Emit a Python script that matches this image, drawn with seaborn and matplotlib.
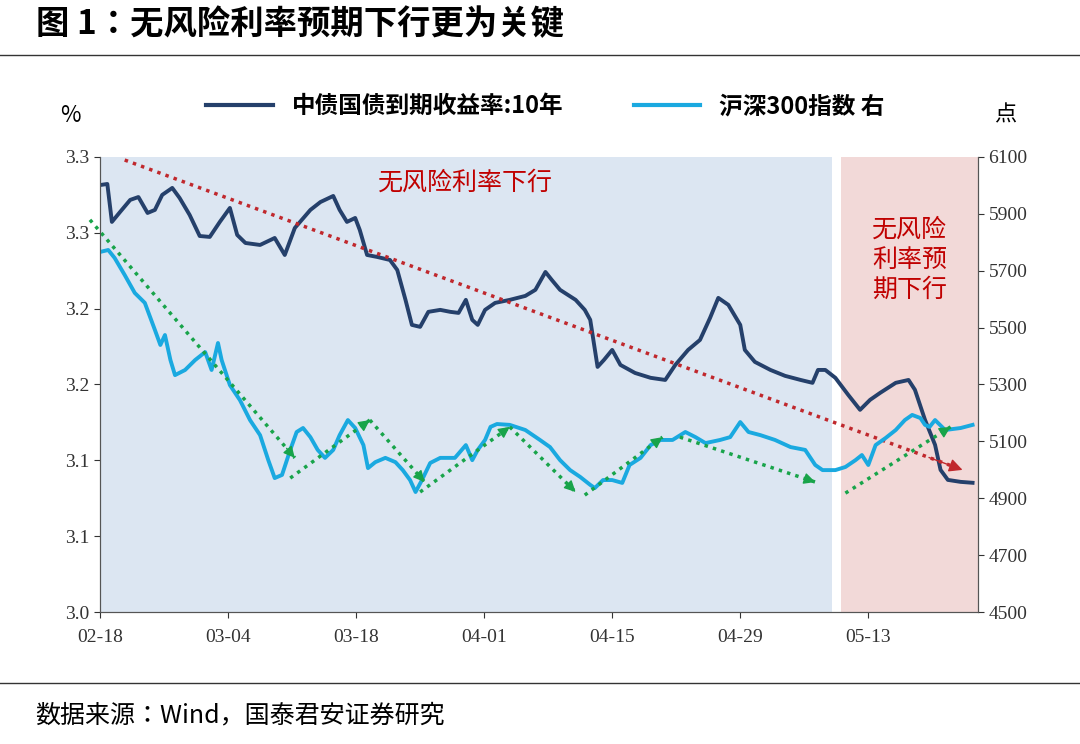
import matplotlib
matplotlib.use("Agg")
import matplotlib.pyplot as plt
import seaborn as sns
from matplotlib.lines import Line2D
from matplotlib import font_manager

bond_day = [0,0.8,1.3,2.2,3.3,4.2,5.2,6,6.8,7.9,8.7,9.8,10.9,12,13.1,14.2,15,15.9,17.5,19.1,20.2,21.3,23,24.1,25.5,26.2,27,27.9,28.4,29.2,30.3,31.7,32.5,33.4,34.1,35,35.9,37.2,38.3,39.2,40,40.7,41.3,42.1,43.2,44.8,46.5,47.6,48.7,49.4,50.3,52,53,53.6,54.4,55.1,56,56.9,58.5,60.2,61.8,62.9,64.3,65.6,66.7,67.6,68.7,70,70.5,71.6,73.3,74.9,76.6,77.9,78.5,79.3,80.4,81.8,83.1,84.2,85.3,87,88.4,89.1,90.2,91.3,91.9,92.7,94.1,95.4]
bond_yield = [3.2815,3.2822,3.2572,3.2638,3.2717,3.2736,3.2631,3.2651,3.2750,3.2796,3.2730,3.2618,3.2479,3.2473,3.2572,3.2664,3.2486,3.2433,3.2420,3.2466,3.2354,3.2532,3.2651,3.2703,3.2743,3.2651,3.2572,3.2598,3.2519,3.2354,3.2341,3.2321,3.2255,3.2058,3.1893,3.1880,3.1979,3.1992,3.1979,3.1972,3.2058,3.1926,3.1893,3.1992,3.2038,3.2058,3.2084,3.2124,3.2242,3.2189,3.2124,3.2058,3.1992,3.1926,3.1616,3.1662,3.1728,3.1629,3.1576,3.1544,3.1530,3.1629,3.1728,3.1794,3.1939,3.2071,3.2025,3.1893,3.1728,3.1649,3.1596,3.1557,3.1530,3.1511,3.1596,3.1596,3.1544,3.1432,3.1333,3.1399,3.1445,3.1511,3.1530,3.1465,3.1267,3.1102,3.0937,3.0871,3.0858,3.0852]

csi_day = [0,0.9,1.6,2.7,3.8,4.9,6,6.6,7.1,7.7,8.2,9.3,10.4,11.5,12.2,12.9,13.3,14.2,15.3,16.4,17.5,18.4,19.1,19.9,20.8,21.5,22.2,23,23.8,24.6,25.5,26.2,27.1,27.9,28.8,29.3,30.1,31.2,32.3,33.1,33.9,34.5,35.2,36.1,37.2,38.8,40,40.7,41.3,42.1,42.7,43.4,44.8,46.5,48.1,49.2,50.3,51.4,52.5,53.6,54.1,55,56,57.1,57.9,59.1,60.2,61.3,62.6,64,65.1,66.2,67.8,68.9,70,70.9,72.2,73.8,75.5,77.1,78.2,79,80.4,81.5,82.6,83.3,84,84.8,85.9,87,88,88.8,89.7,90.2,90.7,91.3,92.4,94.1,95.4]
csi_value = [5766,5773,5745,5685,5622,5587,5492,5439,5474,5386,5333,5351,5386,5414,5351,5446,5386,5298,5245,5175,5122,5034,4971,4982,5070,5133,5147,5115,5070,5042,5070,5122,5175,5147,5087,5006,5027,5042,5027,4999,4964,4922,4964,5024,5042,5042,5087,5034,5070,5105,5151,5161,5158,5140,5105,5080,5034,4999,4975,4947,4936,4964,4964,4954,5017,5042,5087,5105,5105,5133,5115,5094,5105,5115,5168,5133,5122,5105,5080,5070,5017,4999,4999,5010,5034,5052,5017,5087,5112,5140,5175,5193,5182,5158,5151,5175,5140,5147,5158]

tick_days = [0,14,28,42,56,70,84]
tick_labels = ["02-18","03-04","03-18","04-01","04-15","04-29","05-13"]
left_ticks = [3.00,3.05,3.10,3.15,3.20,3.25,3.30]
left_labels = ["3.0","3.1","3.1","3.2","3.2","3.3","3.3"]
right_ticks = [4500,4700,4900,5100,5300,5500,5700,5900,6100]

red_trend = [(2.7,3.298),(94.3,3.0937)]
green_trends = [((-1.1,5879),(21.3,5042)),((20.8,4971),(29.5,5175)),((29.5,5175),(35.5,4957)),
                ((35,4922),(44.8,5151)),((44.8,5151),(52,4922)),((53,4911),(61.5,5115)),
                ((63.4,5115),(78.2,4957)),((81.5,4918),(93,5151))]

names = {f.name for f in font_manager.fontManager.ttflist}
CN = [n for n in ["Noto Sans CJK SC", "Noto Sans CJK JP", "Noto Sans CJK TC", "Noto Sans CJK KR"] if n in names] + ["DejaVu Sans"]
plt.rcParams["font.family"] = CN
SERIF = "Liberation Serif"
DARK = "#25406b"
LIGHT = "#1aa9e0"
RED = "#c00000"

fig = plt.figure(figsize=(10.8, 7.44), dpi=100)
ax = fig.add_axes([0.0926, 0.1774, 0.813, 0.6116])
ax2 = ax.twinx()

ax.axvspan(0, 80, color="#dce6f2", zorder=0, lw=0)
ax.axvspan(81, 96, color="#f2d9d8", zorder=0, lw=0)

sns.lineplot(x=bond_day, y=bond_yield, ax=ax, color=DARK, lw=2.8)
sns.lineplot(x=csi_day, y=csi_value, ax=ax2, color=LIGHT, lw=2.8)

def trend(axis, a, b, color, ms):
    axis.plot([a[0], b[0]], [a[1], b[1]], color=color, lw=2.5, ls=(0, (1, 1.5)), clip_on=False)
    t = 0.96
    mid = (a[0] + (b[0]-a[0])*t, a[1] + (b[1]-a[1])*t)
    axis.annotate("", xy=b, xytext=mid, annotation_clip=False,
                  arrowprops=dict(arrowstyle="-|>", color=color, lw=1, mutation_scale=ms, shrinkA=0, shrinkB=0))

trend(ax, red_trend[0], red_trend[1], "#c0282d", 20)
for (a, b) in green_trends:
    trend(ax2, a, b, "#18a44a", 17)

ax.set_xlim(0, 96)
ax.set_ylim(3.0, 3.3)
ax2.set_ylim(4500, 6100)
ax.set_xticks(tick_days)
ax.set_xticklabels(tick_labels, fontname=SERIF, fontsize=14)
ax.set_yticks(left_ticks)
ax.set_yticklabels(left_labels, fontname=SERIF, fontsize=14)
ax2.set_yticks(right_ticks)
ax2.set_yticklabels([str(v) for v in right_ticks], fontname=SERIF, fontsize=14)
for a in (ax, ax2):
    a.set_xlabel(""); a.set_ylabel("")
    a.spines["top"].set_visible(False)
    for s in ("left", "right", "bottom"):
        a.spines[s].set_color("#555555")
    a.tick_params(direction="out", length=4, colors="#333333")
ax.tick_params(axis="x", pad=8)

ax.text(40, 3.283, "无风险利率下行", color=RED, family=CN, fontsize=18, ha="center", va="center")
ax.text(88.5, 3.232, "无风险\n利率预\n期下行", color=RED, family=CN, fontsize=18, ha="center", va="center", linespacing=1.2)

handles = [Line2D([], [], color=DARK, lw=3), Line2D([], [], color=LIGHT, lw=3)]
fig.legend(handles, ["中债国债到期收益率:10年", "沪深300指数 右"], loc="center", bbox_to_anchor=(0.505, 0.857),
           ncol=2, frameon=False, prop=dict(family=CN, size=17, weight="bold"), handlelength=2.8, columnspacing=3.0)
fig.text(70/1080, 1-115/744, "%", family=CN, fontsize=16, ha="center", va="center")
fig.text(1005/1080, 1-115/744, "点", family=CN, fontsize=16, ha="center", va="center")

fig.text(0.033, 1-25/744, "图 1：无风险利率预期下行更为关键", family=CN, fontsize=24, fontweight="bold", va="center")
fig.add_artist(Line2D([0.0, 1.0], [1-55/744]*2, color="#333333", lw=1))
fig.add_artist(Line2D([0.0, 1.0], [1-683/744]*2, color="#333333", lw=1))
fig.text(0.033, 1-715/744, "数据来源：Wind，国泰君安证券研究", family=CN, fontsize=18, va="center")

fig.savefig("out.png", dpi=100)
